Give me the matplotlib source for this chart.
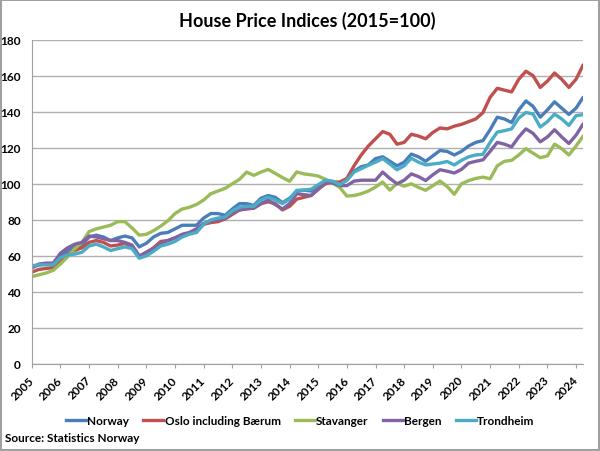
import numpy as np
import matplotlib.pyplot as plt
from matplotlib.lines import Line2D

# --- data: quarterly index, 2015=100, from 2005Q1 to 2024Q2 ---
norway = [
    53.5, 55, 55.5, 55.5,
    60, 63, 65, 66,
    70.5, 71.5, 70.5, 68.5,
    70, 71, 70, 65,
    67, 70.5, 72.5, 73,
    75, 77, 77, 77,
    81, 83.5, 83.5, 82.5,
    86, 89, 89, 88,
    92, 93.5, 92.5, 89.5,
    92, 96, 96.5, 96,
    99, 101.5, 101, 100,
    102, 107, 109.5, 110.5,
    114, 115, 112.5, 110,
    112, 116.5, 115, 112.5,
    115.5, 118.5, 118, 116,
    118, 121, 123, 124,
    130, 137, 136, 134,
    141, 146, 143, 137,
    141, 145.5, 142, 138.5,
    142, 148,
]
oslo = [
    51, 52.5, 53, 53.5,
    57.5, 61, 63, 64.5,
    67.5, 68.5, 67.5, 65.5,
    66, 67, 65, 59.5,
    62, 64.5, 68, 68.5,
    70, 71.5, 72.5, 74,
    77.5, 78.5, 79, 80.5,
    83, 85.5, 86, 86.5,
    89, 90, 89, 85.5,
    87.5, 91.5, 92.5, 93.5,
    97, 100, 101, 101,
    103, 110, 116, 121,
    125, 129, 127.5, 122,
    123, 127.5, 126.5, 125,
    128.5, 131, 130.5, 132,
    133, 134.5, 136, 139.5,
    148, 153, 152, 151,
    158, 162.5, 160, 153.5,
    157, 161.5, 158, 153.5,
    158, 166,
]
stavanger = [
    48.5, 49.5, 50.5, 52,
    55.5, 59.5, 64, 67.5,
    73.5, 75, 76, 77,
    79, 79, 75.5, 71.5,
    72, 74, 76.5, 79.5,
    83.5, 86, 87, 88.5,
    91, 94.5, 96, 97.5,
    100, 102.5, 106.5, 104.7,
    106.5, 108, 105.8, 103.5,
    101.4, 106.6, 105.5, 105,
    104.3, 102.5, 100.5, 98,
    93.2, 93.5, 94.5, 96,
    98.2, 101, 96.5, 100.3,
    98.7, 100, 98, 96.4,
    99, 101.5, 98.5, 94.2,
    100, 101.8, 103, 103.7,
    102.8, 110, 112.5, 113,
    116, 119.5, 117, 114.5,
    115.5, 122, 119.5, 116,
    121, 126.5,
]
bergen = [
    53.5, 55.5, 56, 56,
    61.5, 64.5, 66.5, 67.5,
    71, 70.5, 69.5, 68.5,
    68.5, 67.5, 66, 60,
    62, 64, 67, 68.5,
    70, 72, 73, 75,
    78, 79.5, 80, 81,
    84, 85.5, 86.5, 86.5,
    89, 91, 88.5, 86,
    89, 94.5, 94, 93.5,
    97, 101, 100.5, 99,
    99, 101.5, 102, 102,
    102, 106.5, 103, 100,
    102, 105.5, 104, 101.8,
    105, 107.8, 107, 106,
    108, 111.5, 112.5, 113.3,
    118, 123, 122, 120.5,
    126, 130.5, 128, 123.3,
    126, 130, 126, 122.4,
    127, 133.3,
]
trondheim = [
    54.5, 55, 55, 55,
    59, 60.5, 61, 62,
    65.5, 66.5, 65, 63,
    64, 65, 64, 58.7,
    60, 62.5, 65.5, 66.5,
    68, 70.5, 72, 73,
    77.5, 80, 81, 81.5,
    85, 87, 87.5, 87.5,
    91, 92.6, 91, 89,
    91.5, 96.4, 96.5, 97,
    99.5, 102, 101.5, 99.5,
    102, 106.5, 108.4, 110.3,
    112, 114, 111, 107.8,
    110, 114.2, 112, 110.5,
    111, 111.5, 112.4, 110.5,
    113, 115, 116, 116.4,
    123, 128.7, 129.5, 130.5,
    136.5, 139.6, 138.7, 131.5,
    134.5, 138.7, 136, 132.4,
    137.8, 138.4,
]

series_names = ['Norway', 'Oslo including Bærum', 'Stavanger', 'Bergen', 'Trondheim']
series_values = [norway, oslo, stavanger, bergen, trondheim]
colors = ['#4A7EBB', '#C0504D', '#9BBB59', '#8064A2', '#4BACC6']
years = list(range(2005, 2025))

quarters = 2005 + np.arange(len(norway)) / 4

plt.rcParams['font.family'] = ['Lato', 'DejaVu Sans']
plt.rcParams['font.weight'] = 'bold'

fig = plt.figure(figsize=(6, 4.52), dpi=100)
ax = fig.add_axes([0.053, 0.1925, 0.919, 0.7175])

for name, vals, col in zip(series_names, series_values, colors):
    ax.plot(quarters, vals, color=col, linewidth=2.4, label=name,
            solid_joinstyle='round', solid_capstyle='round')

ax.set_xlim(2005, quarters[-1])
ax.set_ylim(0, 180)
ax.set_yticks(range(0, 181, 20))
ax.set_xticks(years)
ax.set_xticklabels([str(y) for y in years], rotation=45, ha='right',
                   va='center', rotation_mode='anchor')
ax.tick_params(axis='x', length=3, color='#A0A0A0', pad=7, labelsize=8.5)
ax.tick_params(axis='y', length=0, pad=8, labelsize=8.5)
ax.grid(axis='y', color='#B0B0B0', linewidth=1)
ax.set_axisbelow(True)
for side in ['top', 'right']:
    ax.spines[side].set_visible(False)
ax.spines['left'].set_color('#A0A0A0')
ax.spines['bottom'].set_color('#A0A0A0')

ax.set_title('House Price Indices (2015=100)', fontsize=13, fontweight='bold', pad=10)

handles = [Line2D([0], [0], color=c, linewidth=2.4) for c in colors]
fig.legend(handles, series_names, loc='center', bbox_to_anchor=(0.5, 0.068),
           ncol=5, frameon=False, fontsize=8.5, handlelength=1.7,
           handletextpad=0.1, columnspacing=1.2)

fig.text(0.008, 0.03, 'Source: Statistics Norway', fontsize=8.5, fontweight='bold',
         ha='left', va='center')

fig.patch.set_edgecolor('#A0A0A0')
fig.patch.set_linewidth(1.5)

fig.savefig('out.png', dpi=100)
